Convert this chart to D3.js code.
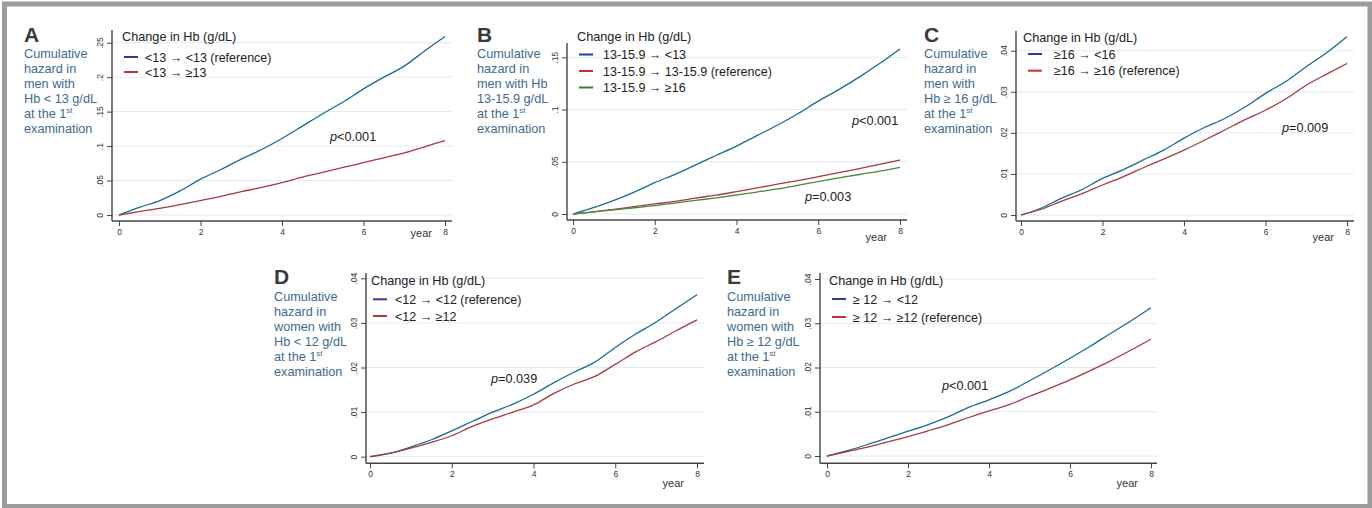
<!DOCTYPE html>
<html>
<head>
<meta charset="utf-8">
<script src="https://cdn.jsdelivr.net/npm/d3@7"></script>
<style>
  body { margin: 0; background: #fff; }
  svg { display: block; font-family: "Liberation Sans", Arial, sans-serif; }
</style>
</head>
<body>
<svg width="1372" height="508"></svg>
<script>
const years = [0, 0.5, 1, 1.5, 2, 2.5, 3, 3.5, 4, 4.5, 5, 5.5, 6, 6.5, 7, 7.5, 8];

// A: men, Hb < 13 at first exam
const hazA_low = [0, .011, .021, .035, .052, .066, .081, .095, .111, .129, .147, .164, .183, .200, .216, .238, .259];
const hazA_up  = [0, .005, .0095, .015, .021, .027, .034, .040, .047, .055, .062, .069, .076, .083, .090, .099, .108];
// B: men, Hb 13-15.9
const hazB_low = [0, .006, .013, .021, .030, .038, .047, .056, .065, .075, .085, .096, .108, .119, .131, .144, .158];
const hazB_ref = [0, .002, .0045, .007, .0096, .012, .0152, .018, .0214, .025, .0285, .032, .0357, .0395, .0435, .0475, .0517];
const hazB_up  = [0, .002, .004, .006, .008, .0105, .013, .0155, .0182, .021, .024, .0275, .031, .0345, .0378, .041, .0447];
// C: men, Hb >= 16
const hazC_low = [0, .0017, .0041, .0062, .0089, .011, .0134, .0158, .0187, .0213, .0235, .0263, .0296, .0325, .0361, .0395, .0434];
const hazC_ref = [0, .0014, .0034, .0052, .0073, .0093, .0115, .0136, .0158, .0182, .0207, .0232, .0255, .0283, .0316, .0343, .0369];
// D: women, Hb < 12
const hazD_ref = [0, .0008, .0022, .0038, .0058, .0079, .0100, .0118, .0140, .0166, .0190, .0212, .0245, .0275, .0302, .0333, .0363];
const hazD_up  = [0, .0008, .0019, .0032, .0047, .0068, .0085, .0100, .0116, .0142, .0163, .0180, .0207, .0235, .0258, .0283, .0307];
// E: women, Hb >= 12
const hazE_low = [0, .0012, .0026, .0041, .0056, .0071, .0089, .0110, .0127, .0146, .0170, .0195, .0221, .0248, .0277, .0305, .0335];
const hazE_ref = [0, .0010, .0020, .0032, .0044, .0057, .0071, .0087, .0102, .0116, .0135, .0153, .0172, .0193, .0215, .0239, .0264];

const legendA = ["<13 \u2192 <13 (reference)", "<13 \u2192 \u226513"];
const legendB = ["13-15.9 \u2192 <13", "13-15.9 \u2192 13-15.9 (reference)", "13-15.9 \u2192 \u226516"];
const legendC = ["\u226516 \u2192 <16", "\u226516 \u2192 \u226516 (reference)"];
const legendD = ["<12 \u2192 <12 (reference)", "<12 \u2192 \u226512"];
const legendE = ["\u2265 12 \u2192 <12", "\u2265 12 \u2192 \u226512 (reference)"];

const labelA = ["Cumulative", "hazard in", "men with", "Hb < 13 g/dL", "at the 1^st", "examination"];
const labelB = ["Cumulative", "hazard in", "men with Hb", "13-15.9 g/dL", "at the 1^st", "examination"];
const labelC = ["Cumulative", "hazard in", "men with", "Hb \u2265 16 g/dL", "at the 1^st", "examination"];
const labelD = ["Cumulative", "hazard in", "women with", "Hb < 12 g/dL", "at the 1^st", "examination"];
const labelE = ["Cumulative", "hazard in", "women with", "Hb \u2265 12 g/dL", "at the 1^st", "examination"];

const ticksA = [0, .05, .1, .15, .2, .25];
const ticksB = [0, .05, .1, .15];
const ticksC = [0, .01, .02, .03, .04];
const ticksD = [0, .01, .02, .03, .04];
const ticksE = [0, .01, .02, .03, .04];
const xTicks = [0, 2, 4, 6, 8];

const pvalA = [{ t: "<0.001", x: 330, y: 141 }];
const pvalB = [{ t: "<0.001", x: 852, y: 125 }, { t: "=0.003", x: 805, y: 201 }];
const pvalC = [{ t: "=0.009", x: 1282, y: 132 }];
const pvalD = [{ t: "=0.039", x: 491, y: 383 }];
const pvalE = [{ t: "<0.001", x: 942, y: 390 }];

const lineCol = ["#1b6a93", "#a63a40", "#4a8a3c"];
const keyCol = ["#2e3a98", "#c4303a", "#3f7d37"];

const panels = [
  { id: "A", lx: 24, ly: 41.5, label: labelA, series: [hazA_low, hazA_up], keys: legendA, yTicks: ticksA, yMax: .25,
    ax: 112, ay: 221, x0: 119, x1: 445, yb: 215, yt: 42.7, top: 30, right: 452,
    legX: 122, legY: 36, kx: 124, tx: 145, items: [57, 72], pv: pvalA, yearDy: 16 },
  { id: "B", lx: 477, ly: 41.5, label: labelB, series: [hazB_low, hazB_ref, hazB_up], keys: legendB, yTicks: ticksB, yMax: .15,
    ax: 567, ay: 220, x0: 573, x1: 900, yb: 214, yt: 57.3, top: 43, right: 907,
    legX: 577, legY: 36, kx: 579, tx: 603, items: [54.5, 71, 87.5], pv: pvalB, yearDy: 21 },
  { id: "C", lx: 924, ly: 41.5, label: labelC, series: [hazC_low, hazC_ref], keys: legendC, yTicks: ticksC, yMax: .04,
    ax: 1016, ay: 221, x0: 1021, x1: 1347, yb: 215, yt: 50.7, top: 31, right: 1354,
    legX: 1023, legY: 37, kx: 1028, tx: 1054, items: [54, 70.7], pv: pvalC, yearDy: 20 },
  { id: "D", lx: 274, ly: 284, label: labelD, series: [hazD_ref, hazD_up], keys: legendD, yTicks: ticksD, yMax: .04,
    ax: 366, ay: 463.3, x0: 370, x1: 697, yb: 456.7, yt: 278.3, top: 273, right: 704,
    legX: 371, legY: 280, kx: 373, tx: 395, items: [299.3, 316], pv: pvalD, yearDy: 24 },
  { id: "E", lx: 727, ly: 284, label: labelE, series: [hazE_low, hazE_ref], keys: legendE, yTicks: ticksE, yMax: .04,
    ax: 820, ay: 463.3, x0: 827, x1: 1151, yb: 456, yt: 279, top: 273, right: 1157,
    legX: 829, legY: 280, kx: 832, tx: 853, items: [299, 317], pv: pvalE, yearDy: 24 }
];

const svg = d3.select("svg");

// outer frame
svg.append("rect").attr("x", 4.5).attr("y", 4).attr("width", 1365.5).attr("height", 502.5)
  .attr("fill", "none").attr("stroke", "#9c9c9c").attr("stroke-width", 5);

const tickFmt = v => v === 0 ? "0" : d3.format(".2~f")(v).replace(/^0/, "");

panels.forEach(p => {
  const g = svg.append("g");
  const x = d3.scaleLinear().domain([0, 8]).range([p.x0, p.x1]);
  const y = d3.scaleLinear().domain([0, p.yMax]).range([p.yb, p.yt]);

  // grid
  g.append("g").selectAll("line").data(p.yTicks).enter().append("line")
    .attr("x1", p.ax).attr("x2", p.right)
    .attr("y1", d => y(d)).attr("y2", d => y(d))
    .attr("stroke", "#e1eaf1").attr("stroke-width", 1);

  // y axis
  const gy = g.append("g").attr("transform", `translate(${p.ax},0)`)
    .call(d3.axisLeft(y).tickValues(p.yTicks).tickFormat(tickFmt).tickSize(5).tickSizeOuter(0));
  gy.select(".domain").remove();
  gy.selectAll("line").attr("stroke", "#444");
  gy.selectAll("text")
    .attr("transform", "rotate(-90)")
    .attr("x", 0).attr("y", -9.5).attr("dy", 0)
    .attr("text-anchor", "middle")
    .attr("font-size", 8.5).attr("fill", "#333").attr("font-family", null);
  g.append("line").attr("x1", p.ax).attr("x2", p.ax).attr("y1", p.top).attr("y2", p.ay)
    .attr("stroke", "#444").attr("stroke-width", 1.4);

  // x axis
  const gx = g.append("g").attr("transform", `translate(0,${p.ay})`)
    .call(d3.axisBottom(x).tickValues(xTicks).tickSize(5).tickSizeOuter(0));
  gx.select(".domain").remove();
  gx.selectAll("line").attr("stroke", "#444");
  gx.selectAll("text").attr("font-size", 8.5).attr("fill", "#333").attr("font-family", null).attr("y", 8);
  g.append("line").attr("x1", p.ax).attr("x2", p.right).attr("y1", p.ay).attr("y2", p.ay)
    .attr("stroke", "#444").attr("stroke-width", 1.4);
  g.append("text").attr("x", x(8) - 13).attr("y", p.ay + p.yearDy)
    .attr("text-anchor", "end").attr("font-size", 11).attr("fill", "#333").text("year");

  // curves
  const line = d3.line().x((d, i) => x(years[i])).y(d => y(d)).curve(d3.curveMonotoneX);
  p.series.forEach((s, i) => {
    g.append("path").attr("d", line(s)).attr("fill", "none")
      .attr("stroke", lineCol[i]).attr("stroke-width", 1.3);
  });

  // legend
  g.append("text").attr("x", p.legX).attr("y", p.legY + 4.5)
    .attr("font-size", 12.7).attr("fill", "#222").text("Change in Hb (g/dL)");
  p.keys.forEach((k, i) => {
    const yy = p.items[i];
    g.append("line").attr("x1", p.kx).attr("x2", p.kx + 14).attr("y1", yy).attr("y2", yy)
      .attr("stroke", keyCol[i]).attr("stroke-width", 2);
    g.append("text").attr("x", p.tx).attr("y", yy + 4.5)
      .attr("font-size", 12.5).attr("fill", "#222").text(k);
  });

  // p-values
  p.pv.forEach(v => {
    const t = g.append("text").attr("x", v.x).attr("y", v.y).attr("font-size", 12.7).attr("fill", "#222");
    t.append("tspan").attr("font-style", "italic").text("p");
    t.append("tspan").text(v.t);
  });

  // panel letter and side label
  g.append("text").attr("x", p.lx).attr("y", p.ly).attr("font-size", 21).attr("font-weight", "bold")
    .attr("fill", "#3a3a3a").text(p.id);
  p.label.forEach((ln, i) => {
    const t = g.append("text").attr("x", p.lx).attr("y", p.ly + 16.5 + i * 15)
      .attr("font-size", 12.7).attr("fill", "#3f6a90");
    const parts = ln.split("^");
    t.append("tspan").text(parts[0]);
    if (parts[1]) t.append("tspan").attr("font-size", 8).attr("dy", -5).text(parts[1]);
  });
});
</script>
</body>
</html>
